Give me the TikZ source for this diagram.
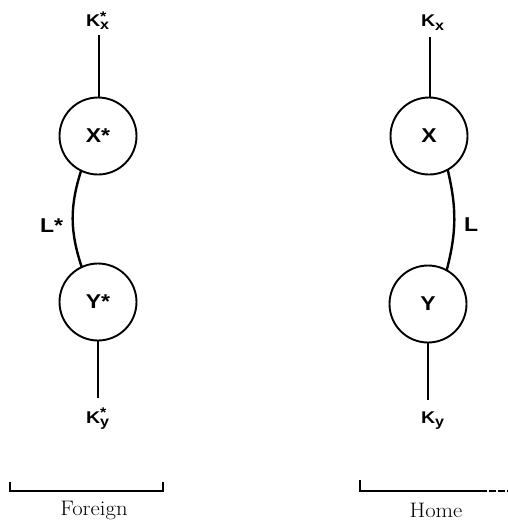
\documentclass[tikz,border=0pt]{standalone}
\usepackage{fontspec}
\newfontfamily\labfont{Liberation Sans}
\newcommand{\sz}[1]{\fontsize{#1}{#1}\selectfont}
\newcommand{\wide}[1]{\scalebox{1.15}[1]{#1}}
\newcommand{\Kstack}[3]{\wide{K\rlap{\raisebox{5.5pt}{\sz{14}#1}}\raisebox{#3}{\sz{14}#2}}}
\begin{document}
\begin{tikzpicture}[x=1pt,y=-1pt,
  every node/.style={inner sep=0pt, outer sep=0pt},
  sector/.style={circle, draw, line width=1.9pt, minimum size=77pt, font=\labfont\bfseries},
  link/.style={line width=2.4pt},
  klab/.style={font=\labfont\bfseries, anchor=base west},
  llab/.style={font=\labfont\bfseries, anchor=base west},
  brk/.style={line width=1.3pt},
  region/.style={font=\rmfamily}]
\useasboundingbox (0,0) rectangle (508,523);

% Foreign
\node[sector] (Xf) at (98,136) {\sz{20}\wide{X*}};
\node[sector] (Yf) at (98,302) {\sz{20}\wide{Y*}};
\coordinate (tf) at (99,35);
\coordinate (bf) at (98,398);
\node[klab] (Kxf) at (86,26.5) {\sz{17}\Kstack{*}{x}{-3pt}};
\node[klab] (Kyf) at (86,423) {\sz{17}\Kstack{*}{y}{-3pt}};
\draw[link] (tf) -- (tf |- Xf.north);
\draw[link] (Yf) -- (bf);
\draw[link] (Xf.244) to[bend right=18] (Yf.115);
\node[llab] (Lf) at (40,232) {\sz{20}\wide{L*}};

% Home
\node[sector] (Xh) at (429,136) {\sz{20}\wide{X}};
\node[sector] (Yh) at (428,304) {\sz{20}\wide{Y}};
\coordinate (th) at (430,37);
\coordinate (bh) at (428,400);
\node[klab] (Kxh) at (421,26.5) {\sz{17}\Kstack{}{x}{-3.5pt}};
\node[klab] (Kyh) at (421,423) {\sz{17}\Kstack{}{y}{-3pt}};
\draw[link] (th) -- (th |- Xh.north);
\draw[link] (Yh) -- (bh);
\draw[link] (Xh.299) to[bend left=14] (Yh.61);
\node[llab] (Lh) at (464,231) {\sz{20}\wide{L}};

% brackets
\coordinate (fa) at (10,482);
\coordinate (fb) at (10,491);
\coordinate (fc) at (163,491);
\coordinate (fd) at (163,482);
\draw[brk] (fa) -- (fb) -- (fc) -- (fd);
\node[region] (Fr) at (94,510) {\sz{21}\scalebox{1.08}[1]{Foreign}};

\coordinate (ha) at (360,480);
\coordinate (hb) at (360,491);
\coordinate (hc) at (480,491);
\coordinate (hd) at (508,491);
\draw[brk] (ha) -- (hb) -- (hc);
\draw[brk, dash pattern=on 7pt off 2pt] (hc) -- (hd);
\node[region] (Hm) at (436,510) {\sz{21}\scalebox{1.08}[1]{Home}};
\end{tikzpicture}
\end{document}
